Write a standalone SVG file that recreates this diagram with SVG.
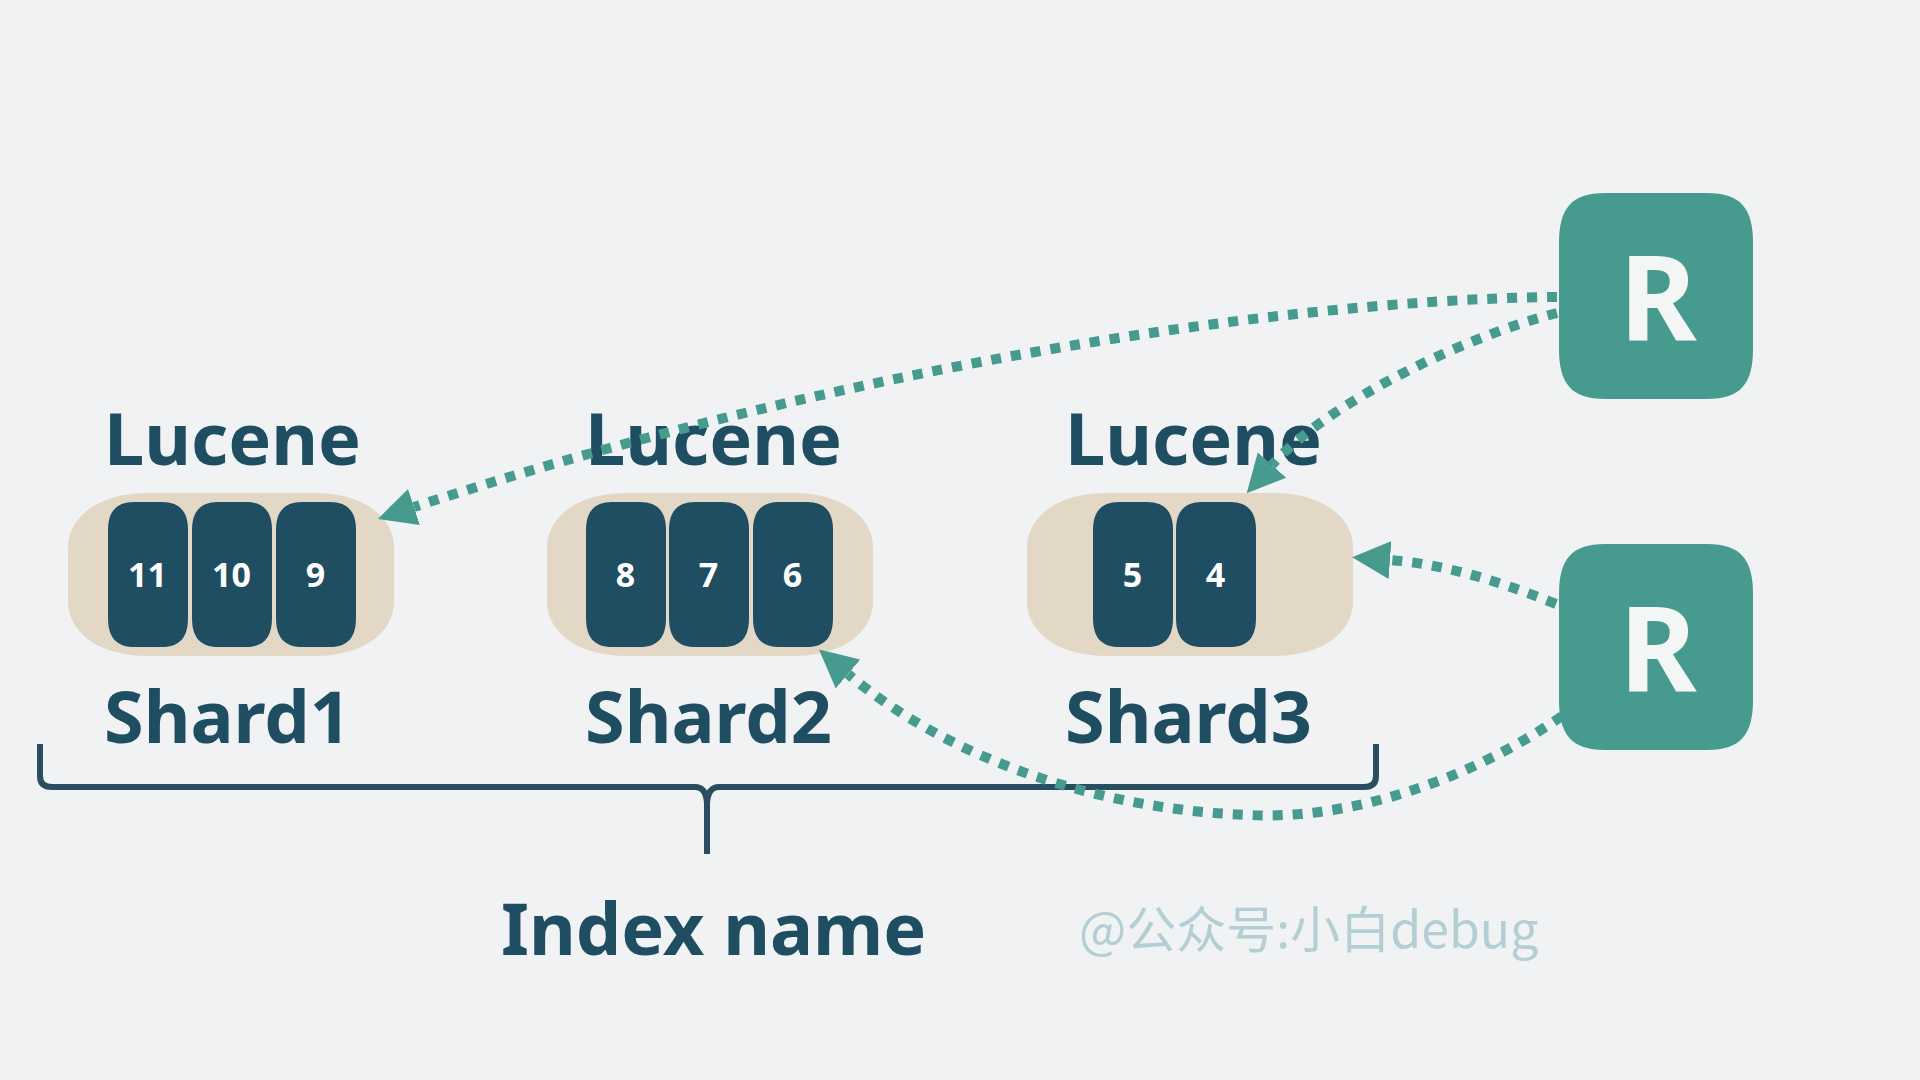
<svg xmlns="http://www.w3.org/2000/svg" xmlns:xlink="http://www.w3.org/1999/xlink" width="1920" height="1080" viewBox="0 0 1920 1080">
<style>
.lbl{font-family:"Noto Sans","Open Sans","Liberation Sans",sans-serif;font-weight:bold;font-size:72px;fill:#1f4e63}
.num{font-family:"Noto Sans","Open Sans","Liberation Sans",sans-serif;font-weight:bold;font-size:34px;fill:#ffffff;text-anchor:middle}
.rl{font-family:"Noto Sans","Open Sans","Liberation Sans",sans-serif;font-weight:bold;font-size:118px;fill:#f4f6f6;text-anchor:middle}
.pill{fill:#e3d7c6}
.blk{fill:#1f4e63}
.rbox{fill:#469a8e}
.conn{fill:none;stroke:#469a8e;stroke-width:10;stroke-dasharray:10 10}
.wm{font-family:"Noto Sans CJK SC","Noto Sans",sans-serif;font-size:50px;fill:#b4cfd4}
</style>
<defs>
<path id="pillShape" d="M80 0 H246 C296 0 326 24 326 55 V108 C326 139 296 163 246 163 H80 C30 163 0 139 0 108 V55 C0 24 30 0 80 0 Z"/>
<path id="blkShape" d="M26 0 H54 C72 0 80 10 80 28 V116 C80 135 72 145 54 145 H26 C8 145 0 135 0 116 V28 C0 10 8 0 26 0 Z"/>
<path id="rShape" d="M46 0 H148 C182 0 194 16 194 50 V156 C194 190 182 206 148 206 H46 C12 206 0 190 0 156 V50 C0 16 12 0 46 0 Z"/>
<marker id="arr" markerUnits="userSpaceOnUse" markerWidth="40" markerHeight="40" refX="0" refY="19" orient="auto" viewBox="0 0 40 38">
<path d="M0 0 L38 19 L0 38 Z" fill="#469a8e"/>
</marker>
</defs>
<rect width="1920" height="1080" fill="#f0f2f4"/>

<g id="shard1">
<text class="lbl" x="104" y="465">Lucene</text>
<use href="#pillShape" class="pill" x="68" y="493"/>
<use href="#blkShape" class="blk" x="108" y="502"/>
<use href="#blkShape" class="blk" x="192" y="502"/>
<use href="#blkShape" class="blk" x="276" y="502"/>
<text class="num" x="147.5" y="587">11</text>
<text class="num" x="231.5" y="587">10</text>
<text class="num" x="315.5" y="587">9</text>
<text class="lbl" x="104" y="743">Shard1</text>
</g>

<g id="shard2">
<text class="lbl" x="585" y="465">Lucene</text>
<use href="#pillShape" class="pill" x="547" y="493"/>
<use href="#blkShape" class="blk" x="586" y="502"/>
<use href="#blkShape" class="blk" x="669" y="502"/>
<use href="#blkShape" class="blk" x="753" y="502"/>
<text class="num" x="625.5" y="587">8</text>
<text class="num" x="708.5" y="587">7</text>
<text class="num" x="792.5" y="587">6</text>
<text class="lbl" x="585" y="743">Shard2</text>
</g>

<g id="shard3">
<text class="lbl" x="1065" y="465">Lucene</text>
<use href="#pillShape" class="pill" x="1027" y="493"/>
<use href="#blkShape" class="blk" x="1093" y="502"/>
<use href="#blkShape" class="blk" x="1176" y="502"/>
<text class="num" x="1132.5" y="587">5</text>
<text class="num" x="1215.5" y="587">4</text>
<text class="lbl" x="1065" y="743">Shard3</text>
</g>

<g id="r1">
<use href="#rShape" class="rbox" x="1559" y="193"/>
<text class="rl" x="1658" y="341">R</text>
</g>

<g id="r2">
<use href="#rShape" class="rbox" x="1559" y="544"/>
<text class="rl" x="1658" y="692">R</text>
</g>

<g id="index">
<path d="M40 744 V776 Q40 787 52 787 H695 Q706 787 707 803 Q708 787 719 787 H1364 Q1376 787 1376 776 V744 M707 800 V854" fill="none" stroke="#2a4d60" stroke-width="6"/>
<text class="lbl" x="501" y="955">Index name</text>
</g>

<g id="watermark">
<text class="wm" x="1079" y="948">@公众号:小白debug</text>
</g>

<g id="connectors">
<path class="conn" d="M1557 297 C1250 300 800 380 414 507" marker-end="url(#arr)"/>
<path class="conn" d="M1557 313 C1470 335 1330 400 1272 465" marker-end="url(#arr)"/>
<path class="conn" d="M1556 604 Q1460 565 1390 560" marker-end="url(#arr)"/>
<path class="conn" d="M1562 716 C1470 780 1350 820 1250 815 C1100 810 950 760 848 674" marker-end="url(#arr)"/>
</g>
</svg>
